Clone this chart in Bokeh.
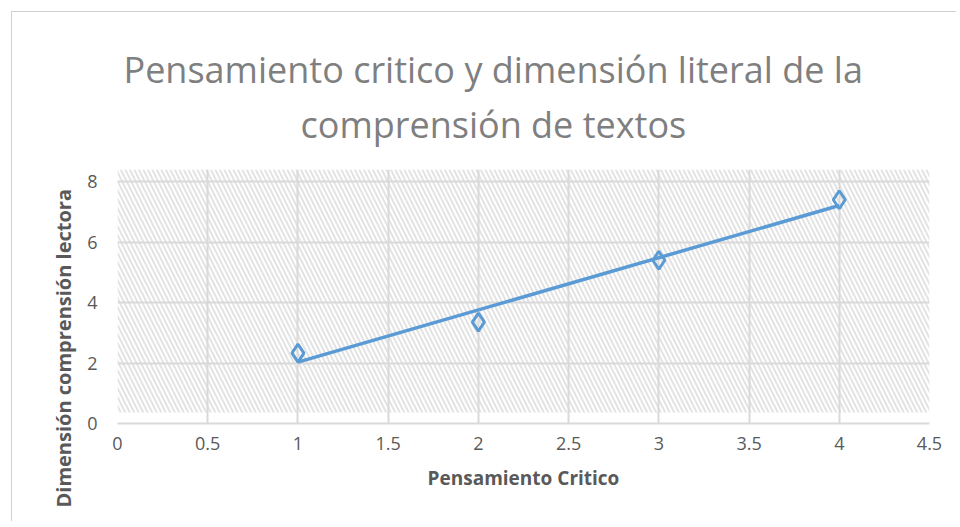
import numpy as np
from bokeh.plotting import figure
from bokeh.models import BoxAnnotation, FixedTicker, Title, Range1d
from bokeh.embed import file_html
from bokeh.resources import INLINE

# data
pensamiento = [1, 2, 3, 4]
dimension = [2.33, 3.35, 5.4, 7.4]
x_ticks = [0, 0.5, 1, 1.5, 2, 2.5, 3, 3.5, 4, 4.5]
x_tick_labels = ["0", "0.5", "1", "1.5", "2", "2.5", "3", "3.5", "4", "4.5"]
y_ticks = [0, 2, 4, 6, 8]
y_tick_labels = ["0", "2", "4", "6", "8"]
title_lines = ["Pensamiento critico y dimensión literal de la", "comprensión de textos"]
x_label = "Pensamiento Critico"
y_label = "Dimensión comprensión  lectora"

FONT = "Open Sans"
BLUE = "#5b9bd5"
GRID = "#d9d9d9"
TXT = "#595959"

p = figure(width=945, height=510, output_backend="svg", toolbar_location=None,
           x_range=Range1d(0, 4.5), y_range=Range1d(0, 8.4),
           min_border_left=105, min_border_top=157, min_border_right=28, min_border_bottom=99)
p.styles = {"margin-left": "11px", "margin-top": "11px",
            "border-left": "1px solid #d0d0d0", "border-top": "1px solid #d0d0d0"}
p.outline_line_color = None
p.background_fill_color = "white"
p.border_fill_color = "white"

# hatched plot-area background
hatch = BoxAnnotation(left=0, right=4.5, bottom=0.36, top=8.4, fill_alpha=0,
                      line_color=None, hatch_pattern="\\", hatch_color="#e3e3e3",
                      hatch_scale=9, hatch_weight=2, level="image")
p.add_layout(hatch)

# axes
p.xaxis.ticker = FixedTicker(ticks=x_ticks)
p.yaxis.ticker = FixedTicker(ticks=y_ticks)
p.xaxis.major_label_overrides = dict(zip(x_ticks, x_tick_labels))
p.yaxis.major_label_overrides = dict(zip(y_ticks, y_tick_labels))
for ax in (p.xaxis[0], p.yaxis[0]):
    ax.major_tick_line_color = None
    ax.minor_tick_line_color = None
    ax.major_label_text_font = FONT
    ax.major_label_text_font_size = "18px"
    ax.major_label_text_color = TXT
    ax.axis_label_text_font = FONT
    ax.axis_label_text_font_style = "bold"
    ax.axis_label_text_color = TXT
p.xaxis.axis_label_text_font_size = "19px"
p.xaxis.axis_line_color = GRID
p.xaxis.axis_line_width = 2
p.yaxis.axis_line_color = None
p.xaxis.axis_label = x_label
p.xaxis.major_label_standoff = 7
p.yaxis.major_label_standoff = 14
p.xaxis.axis_label_standoff = 12

# y-axis title as a side title so it can sit lower, as in the original
p.add_layout(Title(text=y_label, align="left", offset=-84,
                   text_font=FONT, text_font_size="20px", text_font_style="bold",
                   text_color=TXT, standoff=16), "left")

p.xgrid.ticker = FixedTicker(ticks=x_ticks)
p.ygrid.ticker = FixedTicker(ticks=y_ticks)
p.xgrid.grid_line_color = GRID
p.ygrid.grid_line_color = GRID
p.xgrid.grid_line_width = 2
p.ygrid.grid_line_width = 2

# linear trendline computed from data
slope, intercept = np.polyfit(pensamiento, dimension, 1)
tx = [min(pensamiento), max(pensamiento)]
ty = [slope * v + intercept for v in tx]
p.line(tx, ty, line_color=BLUE, line_width=3.5)

p.scatter(pensamiento, dimension, marker="diamond", size=18, fill_alpha=0,
          line_color=BLUE, line_width=3)

# titles (added bottom line first)
p.add_layout(Title(text=title_lines[1], align="left", offset=183,
                   text_font=FONT, text_font_size="36px", text_font_style="normal",
                   text_color="#7f7f7f", standoff=42), "above")
p.add_layout(Title(text=title_lines[0], align="left", offset=6,
                   text_font=FONT, text_font_size="36px", text_font_style="normal",
                   text_color="#7f7f7f", standoff=-34), "above")

open("out.html", "w").write(file_html(p, INLINE))
